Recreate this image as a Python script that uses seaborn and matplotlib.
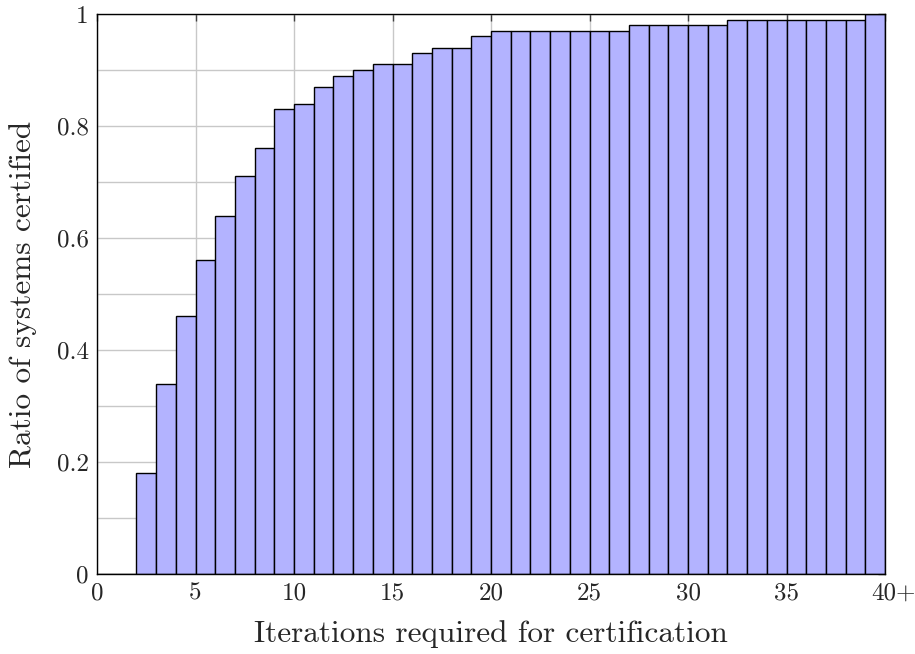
import numpy as np
import pandas as pd
import seaborn as sns
import matplotlib
matplotlib.use("Agg")
import matplotlib.pyplot as plt
from matplotlib.ticker import MultipleLocator, FixedLocator, FixedFormatter
from matplotlib.transforms import ScaledTranslation

# Cumulative ratio of systems certified after each iteration count (last bin = 40+)
iterations = list(range(0, 40))
ratio = [0.00, 0.00, 0.18, 0.34, 0.46, 0.56, 0.64, 0.71, 0.76, 0.83,
         0.84, 0.87, 0.89, 0.90, 0.91, 0.91, 0.93, 0.94, 0.94, 0.96,
         0.97, 0.97, 0.97, 0.97, 0.97, 0.97, 0.97, 0.98, 0.98, 0.98,
         0.98, 0.98, 0.99, 0.99, 0.99, 0.99, 0.99, 0.99, 0.99, 1.00]
x_ticks = [0, 5, 10, 15, 20, 25, 30, 35, 40]
x_tick_labels = ["0", "5", "10", "15", "20", "25", "30", "35", "40+"]
y_ticks = [0, 0.2, 0.4, 0.6, 0.8, 1.0]
y_tick_labels = ["0", "0.2", "0.4", "0.6", "0.8", "1"]

df = pd.DataFrame({"iterations": iterations, "ratio": ratio})

sns.set_style("white")
plt.rcParams["font.family"] = ["cmr10", "DejaVu Serif"]
plt.rcParams["axes.formatter.use_mathtext"] = True

fig = plt.figure(figsize=(9.15, 6.54), dpi=100)
ax = fig.add_axes([97 / 915, 1 - 574 / 654, 788 / 915, 560 / 654])

sns.histplot(data=df, x="iterations", weights="ratio",
             binwidth=1, binrange=(0, 40), ax=ax,
             color="#b3b3ff", edgecolor="black", linewidth=1.0, alpha=1.0)

ax.set_xlim(0, 40)
ax.set_ylim(0, 1)

ax.xaxis.set_major_locator(FixedLocator(x_ticks))
ax.xaxis.set_major_formatter(FixedFormatter(x_tick_labels))
ax.yaxis.set_major_locator(FixedLocator(y_ticks))
ax.yaxis.set_major_formatter(FixedFormatter(y_tick_labels))
ax.yaxis.set_minor_locator(MultipleLocator(0.1))

ax.set_axisbelow(True)
ax.grid(True, which="major", axis="x", color="#c8c8c8", linewidth=1.0)
ax.grid(True, which="both", axis="y", color="#c8c8c8", linewidth=1.0)

ax.tick_params(which="both", direction="in", top=True, right=True,
               labelsize=18, width=1.0, color="#404040")
ax.tick_params(which="major", length=5, pad=6)
ax.tick_params(which="minor", length=3)

for side in ax.spines.values():
    side.set_color("black")
    side.set_linewidth(1.0)

ax.set_xlabel("Iterations required for certification", fontsize=22.5, labelpad=11)
ax.set_ylabel("Ratio of systems certified", fontsize=22.5, labelpad=14)

# Keep the "40" of the last label centred on its tick, with "+" trailing
last = ax.get_xticklabels()[-1]
last.set_transform(last.get_transform() + ScaledTranslation(8 / 100, 0, fig.dpi_scale_trans))

fig.savefig("out.png", dpi=100)
